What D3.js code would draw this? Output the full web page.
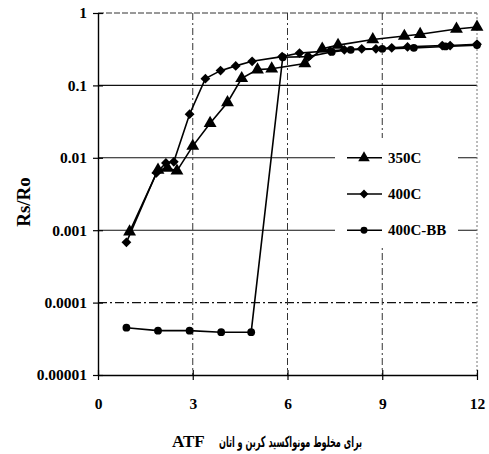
<!DOCTYPE html>
<html>
<head>
<meta charset="utf-8">
<script src="https://cdn.jsdelivr.net/npm/d3@7"></script>
<style>
  html, body { margin: 0; padding: 0; background: #fff; }
  svg { display: block; }
</style>
</head>
<body>
<svg id="chart" width="489" height="454"></svg>
<script>
// Rs/Ro versus ATF, three test series on a logarithmic response axis
const xTicks = [0, 3, 6, 9, 12];
const yTicks = [1, 0.1, 0.01, 0.001, 0.0001, 0.00001];
const yTickLabels = ["1", "0.1", "0.01", "0.001", "0.0001", "0.00001"];
const seriesNames = ["350C", "400C", "400C-BB"];

const atf350 = [1.0, 1.9, 2.2, 2.5, 3.0, 3.55, 4.1, 4.55, 5.05, 5.5, 6.55, 7.1, 7.6, 8.7, 9.7, 10.2, 11.35, 12.0];
const rs350 = [0.00095, 0.0068, 0.0072, 0.0066, 0.0145, 0.03, 0.058, 0.125, 0.165, 0.17, 0.2, 0.32, 0.36, 0.43, 0.48, 0.51, 0.6, 0.64];

const atf400 = [0.9, 1.85, 2.15, 2.4, 2.9, 3.4, 3.88, 4.36, 4.88, 5.83, 6.38, 7.35, 7.8, 8.35, 8.8, 9.3, 9.8, 10.9, 11.15, 12.0];
const rs400 = [0.00068, 0.0062, 0.0085, 0.0088, 0.04, 0.124, 0.16, 0.186, 0.215, 0.25, 0.28, 0.3, 0.31, 0.32, 0.32, 0.33, 0.34, 0.355, 0.355, 0.37];

const atfBB = [0.9, 1.9, 2.9, 3.9, 4.85, 5.85, 6.65, 7.4, 8.0, 9.0, 10.0, 11.0, 12.0];
const rsBB = [0.000045, 0.000041, 0.000041, 0.000039, 0.000039, 0.245, 0.25, 0.29, 0.31, 0.32, 0.33, 0.345, 0.36];

const svg = d3.select("#chart");
const plotLeft = 98, plotRight = 477, plotTop = 13, plotBottom = 375;

const x = d3.scaleLinear().domain([0, 12]).range([plotLeft, plotRight]);
const y = d3.scaleLog().domain([0.00001, 1]).range([plotBottom, plotTop]);

const serif = "'Liberation Serif', 'Times New Roman', serif";

// horizontal grid at each decade
const grid = svg.append("g");
grid.selectAll("line.h").data(yTicks.slice(1, 5)).join("line")
  .attr("x1", plotLeft).attr("x2", plotRight)
  .attr("y1", d => y(d)).attr("y2", d => y(d))
  .attr("stroke", "#111").attr("stroke-width", 1.1)
  .attr("stroke-dasharray", d => d === 0.0001 ? "9,3,2,3" : null);

// vertical grid
grid.selectAll("line.v").data(xTicks.slice(1, 4)).join("line")
  .attr("x1", d => x(d)).attr("x2", d => x(d))
  .attr("y1", plotTop).attr("y2", plotBottom)
  .attr("stroke", "#333").attr("stroke-width", 1)
  .attr("stroke-dasharray", "7,3,2,3");

// top and right frame edges
svg.append("line").attr("x1", plotLeft).attr("x2", plotRight).attr("y1", plotTop).attr("y2", plotTop)
  .attr("stroke", "#333").attr("stroke-width", 1).attr("stroke-dasharray", "6,2");
svg.append("line").attr("x1", plotRight).attr("x2", plotRight).attr("y1", plotTop).attr("y2", plotBottom)
  .attr("stroke", "#777").attr("stroke-width", 1).attr("stroke-dasharray", "2,2");

// axes with ticks crossing the axis line
const yAxis = d3.axisLeft(y).tickValues(yTicks)
  .tickFormat((d, i) => yTickLabels[i]).tickSizeInner(5).tickSizeOuter(0).tickPadding(8);
const gy = svg.append("g").attr("transform", `translate(${plotLeft},0)`).call(yAxis);
gy.select(".domain").attr("stroke", "#000").attr("stroke-width", 1.4);
gy.selectAll(".tick line").attr("x2", -5).attr("x1", 5).attr("stroke", "#000").attr("stroke-width", 1.2);
gy.selectAll(".tick text").attr("font-family", serif).attr("font-size", 15.5)
  .attr("font-weight", "bold").attr("fill", "#000").attr("x", -11);

const xAxis = d3.axisBottom(x).tickValues(xTicks).tickFormat(d3.format("d"))
  .tickSizeInner(5).tickSizeOuter(0).tickPadding(18);
const gx = svg.append("g").attr("transform", `translate(0,${plotBottom})`).call(xAxis);
gx.select(".domain").attr("stroke", "#000").attr("stroke-width", 1.4);
gx.selectAll(".tick line").attr("y1", -5).attr("y2", 5).attr("stroke", "#000").attr("stroke-width", 1.2);
gx.selectAll(".tick text").attr("font-family", serif).attr("font-size", 15.5)
  .attr("font-weight", "bold").attr("fill", "#000");

// axis titles
svg.append("text").attr("transform", "translate(30,202) rotate(-90)")
  .attr("text-anchor", "middle").attr("font-family", serif).attr("font-size", 19)
  .attr("font-weight", "bold").text("Rs/Ro");
svg.append("text").attr("x", 172).attr("y", 447)
  .attr("font-family", serif).attr("font-size", 17).attr("font-weight", "bold").text("ATF");
svg.append("text").attr("x", 219).attr("y", 447)
  .attr("font-family", "'DejaVu Sans', 'Noto Sans', sans-serif").attr("font-size", 15)
  .attr("font-weight", "bold")
  .attr("textLength", 143).attr("lengthAdjust", "spacingAndGlyphs")
  .text("برای مخلوط مونواکسید کربن و اتان");

// series
const series = [
  { name: seriesNames[0], xs: atf350, ys: rs350, sym: d3.symbolTriangle, size: 72, rot: 0 },
  { name: seriesNames[1], xs: atf400, ys: rs400, sym: d3.symbolSquare, size: 48, rot: 45 },
  { name: seriesNames[2], xs: atfBB, ys: rsBB, sym: d3.symbolCircle, size: 48, rot: 0 }
];

const line = d3.line().x(d => x(d[0])).y(d => y(d[1]));
const plot = svg.append("g");
series.forEach(s => {
  const pts = s.xs.map((v, i) => [v, s.ys[i]]);
  plot.append("path").datum(pts).attr("d", line)
    .attr("fill", "none").attr("stroke", "#000").attr("stroke-width", 1.6);
  plot.selectAll(null).data(pts).join("path")
    .attr("d", d3.symbol().type(s.sym).size(s.size))
    .attr("transform", d => `translate(${x(d[0])},${y(d[1])}) rotate(${s.rot})`)
    .attr("fill", "#000");
});

// legend on a white panel over the grid
const legend = svg.append("g");
legend.append("rect").attr("x", 335).attr("y", 138).attr("width", 123).attr("height", 110).attr("fill", "#fff");
const rowY = [y(0.01), (y(0.01) + y(0.001)) / 2, y(0.001)];
series.forEach((s, i) => {
  const g = legend.append("g").attr("transform", `translate(0,${rowY[i]})`);
  g.append("line").attr("x1", 347).attr("x2", 382).attr("y1", 0).attr("y2", 0)
    .attr("stroke", "#000").attr("stroke-width", 1.4);
  g.append("path").attr("d", d3.symbol().type(s.sym).size(s.size * 0.8))
    .attr("transform", `translate(364,0) rotate(${s.rot})`).attr("fill", "#000");
  g.append("text").attr("x", 388).attr("y", 5).attr("font-family", serif)
    .attr("font-size", 15).attr("font-weight", "bold").text(s.name);
});
</script>
</body>
</html>
